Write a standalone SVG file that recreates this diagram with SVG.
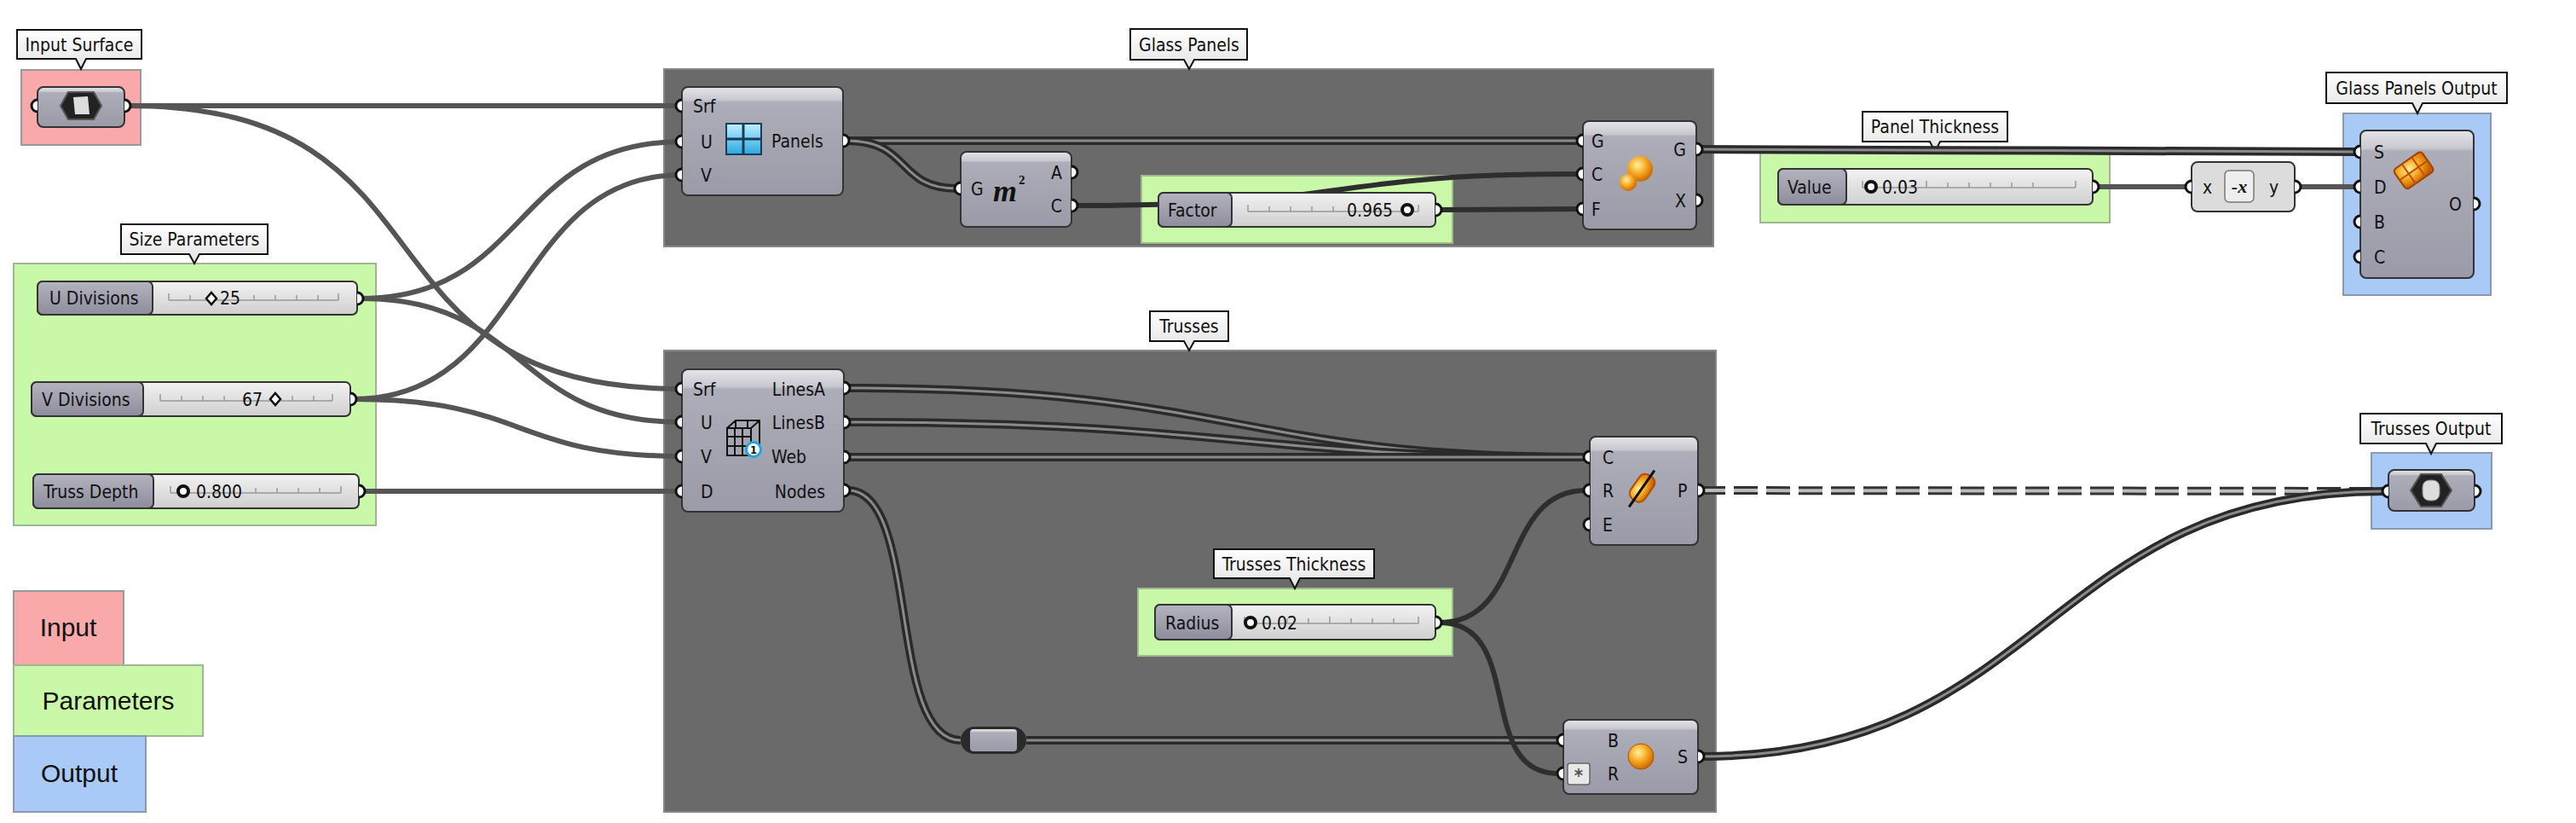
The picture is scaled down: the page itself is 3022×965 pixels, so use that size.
<svg xmlns="http://www.w3.org/2000/svg" width="3022" height="965" viewBox="0 0 3022 965">
<defs>
<linearGradient id="comp" x1="0" y1="0" x2="0" y2="1"><stop offset="0" stop-color="#e4e4e8"/><stop offset="0.12" stop-color="#c8c8d0"/><stop offset="0.14" stop-color="#aeaeba"/><stop offset="1" stop-color="#9a9aa8"/></linearGradient>
<linearGradient id="sl" x1="0" y1="0" x2="0" y2="1"><stop offset="0" stop-color="#f2f2f2"/><stop offset="1" stop-color="#cfcfcf"/></linearGradient>
<linearGradient id="sll" x1="0" y1="0" x2="0" y2="1"><stop offset="0" stop-color="#b4b4c0"/><stop offset="1" stop-color="#8c8c9c"/></linearGradient>
<linearGradient id="bub" x1="0" y1="0" x2="0" y2="1"><stop offset="0" stop-color="#ffffff"/><stop offset="1" stop-color="#e2e2e2"/></linearGradient>
<radialGradient id="orb" cx="0.4" cy="0.35" r="0.7"><stop offset="0" stop-color="#fff2a0"/><stop offset="0.5" stop-color="#f7a821"/><stop offset="1" stop-color="#c06000"/></radialGradient>
<linearGradient id="win" x1="0" y1="0" x2="0" y2="1"><stop offset="0" stop-color="#bff0ff"/><stop offset="1" stop-color="#2aa8e0"/></linearGradient>
</defs>
<style>
text{font-family:"Liberation Sans Narrow","DejaVu Sans Condensed","Liberation Sans",sans-serif;font-size:21px;fill:#111}
.grp{fill:#6a6a6a;stroke:#888;stroke-width:2}
.pink{fill:#f9a9aa;stroke:#999;stroke-width:2}
.green{fill:#c8f8a8;stroke:#a0b890;stroke-width:2}
.blue{fill:#a9c9f7;stroke:#8a98b0;stroke-width:2}
.comp{fill:url(#comp);stroke:#333;stroke-width:2}
.bub{fill:url(#bub);stroke:#111;stroke-width:2}
.port{fill:#fff;stroke:#111;stroke-width:3}
.w{fill:none;stroke:#555;stroke-width:6}
.wd{fill:none;stroke:#2e2e2e;stroke-width:6}
.d1{fill:none;stroke:#2a2a2a;stroke-width:10}
.d2{fill:none;stroke:#8a8a8a;stroke-width:3}
.dash{fill:none;stroke:#333;stroke-width:10;stroke-dasharray:28 10}
.dashi{fill:none;stroke:#bbb;stroke-width:4;stroke-dasharray:28 10}
.sll{fill:url(#sll);stroke:#333;stroke-width:2}
.slr{fill:url(#sl);stroke:#333;stroke-width:2}
.tick{stroke:#999;stroke-width:1.5;fill:none}
.leg{font-family:"Liberation Sans",Arial,sans-serif;font-size:30px}
</style>

<g id="legend">
<rect x="16" y="693" width="129" height="87" class="pink"/>
<text x="80" y="746" class="leg" text-anchor="middle">Input</text>
<rect x="16" y="780" width="222" height="83" class="green"/>
<text x="127" y="832" class="leg" text-anchor="middle">Parameters</text>
<rect x="16" y="863" width="155" height="89" class="blue"/>
<text x="93" y="917" class="leg" text-anchor="middle">Output</text>
</g>
<g id="group-input"><rect x="25" y="82" width="140" height="88" class="pink"/>
<path d="M20,35 H166 V69 H101 L95,81 L89,69 H20 Z" class="bub"/><text x="93" y="60" text-anchor="middle">Input Surface</text></g>
<g id="group-size"><rect x="16" y="309" width="425" height="307" class="green"/>
<path d="M142,263 H314 V298 H234 L228,309 L222,298 H142 Z" class="bub"/><text x="228" y="288" text-anchor="middle">Size Parameters</text></g>
<g id="group-glass"><rect x="779" y="81" width="1231" height="208" class="grp"/>
<path d="M1326,34 H1463 V70 H1401 L1395,81 L1389,70 H1326 Z" class="bub"/><text x="1395" y="60" text-anchor="middle">Glass Panels</text></g>
<g id="group-trusses"><rect x="779" y="411" width="1234" height="541" class="grp"/>
<path d="M1349,365 H1441 V400 H1401 L1395,411 L1389,400 H1349 Z" class="bub"/><text x="1395" y="390" text-anchor="middle">Trusses</text></g>
<g id="group-factor"><rect x="1339" y="206" width="365" height="79" class="green"/></g>
<g id="group-panelthk"><rect x="2065" y="178" width="410" height="83" class="green"/>
<path d="M2185,131 H2355 V166 H2276 L2270,178 L2264,166 H2185 Z" class="bub"/><text x="2270" y="156" text-anchor="middle">Panel Thickness</text></g>
<g id="group-glassout"><rect x="2749" y="133" width="173" height="213" class="blue"/>
<path d="M2729,85 H2941 V121 H2842 L2836,133 L2830,121 H2729 Z" class="bub"/><text x="2835" y="111" text-anchor="middle">Glass Panels Output</text></g>
<g id="group-trussthk"><rect x="1335" y="690" width="369" height="79" class="green"/>
<path d="M1424,644 H1612 V678 H1525 L1519,690 L1513,678 H1424 Z" class="bub"/><text x="1518" y="669" text-anchor="middle">Trusses Thickness</text></g>
<g id="group-trussout"><rect x="2782" y="531" width="141" height="89" class="blue"/>
<path d="M2769,485 H2935 V520 H2858 L2852,532 L2846,520 H2769 Z" class="bub"/><text x="2852" y="510" text-anchor="middle">Trusses Output</text></g>

<g id="connectors">
<path class="w" d="M150,124 C500,124 500,124 800,124"/>
<path class="w" d="M150,124 C550,124 400,456 800,456"/>
<path class="w" d="M423,350 C620,350 600,166 800,166"/>
<path class="w" d="M423,350 C620,350 600,495 800,495"/>
<path class="w" d="M414,468 C620,468 600,205 800,205"/>
<path class="w" d="M414,468 C620,468 600,535 800,535"/>
<path class="w" d="M425,576 L800,576"/>
<path class="d1" d="M993,165 L1853,165"/><path class="d2" d="M993,165 L1853,165"/>
<path class="d1" d="M993,165 C1070,165 1050,221 1123,221"/><path class="d2" d="M993,165 C1070,165 1050,221 1123,221"/>
<path class="wd" d="M1262,241 C1600,241 1550,204 1853,204"/>
<path class="wd" d="M1689,246 L1853,245"/>
<path class="d1" d="M1994,175 C2400,175 2400,178 2765,178"/><path class="d2" d="M1994,175 C2400,175 2400,178 2765,178"/>
<path class="w" d="M2459,219 L2566,219"/>
<path class="w" d="M2696,219 L2765,219"/>
<path class="d1" d="M995,455 C1450,455 1450,536 1861,536"/><path class="d2" d="M995,455 C1450,455 1450,536 1861,536"/>
<path class="d1" d="M995,495 C1450,495 1450,536 1861,536"/><path class="d2" d="M995,495 C1450,495 1450,536 1861,536"/>
<path class="d1" d="M995,536 L1861,536"/><path class="d2" d="M995,536 L1861,536"/>
<path class="d1" d="M995,575 C1080,575 1040,868 1127,868"/><path class="d2" d="M995,575 C1080,575 1040,868 1127,868"/>
<path class="d1" d="M1204,868 L1828,868"/><path class="d2" d="M1204,868 L1828,868"/>
<path class="wd" d="M1689,730 C1790,730 1760,575 1861,575"/>
<path class="wd" d="M1689,730 C1790,730 1730,907 1828,907"/>
<path class="dash" d="M1996,575 L2797,576"/><path class="dashi" d="M1996,575 L2797,576"/>
<path class="d1" d="M1996,887 C2400,887 2400,576 2797,576"/><path class="d2" d="M1996,887 C2400,887 2400,576 2797,576"/>
</g>

<g id="input-surface">
<rect x="44" y="102" width="102" height="47" rx="7" class="comp"/>
<polygon points="80,108 110,108 119,124 110,140 80,140 71,124" fill="#222" stroke="#555" stroke-width="2"/>
<path d="M86,114 L103,113 L105,134 L88,134 Z" fill="#ddd"/>
<path d="M44,117 a7,7 0 0 0 0,14" class="port"/><path d="M146,117 a7,7 0 0 1 0,14" class="port"/>
</g>

<g id="u-divisions">
<rect x="44" y="330" width="375" height="39" rx="6" class="slr"/>
<rect x="44" y="330" width="135" height="39" rx="6" class="sll"/>
<text x="58" y="357">U Divisions</text>
<path class="tick" d="M198,352 H397 M198,344 V352 M223,346 V352 M298,346 V352 M323,346 V352 M348,346 V352 M373,346 V352 M397,344 V352"/>
<path d="M248,343 L254,350 L248,357 L242,350 Z" fill="#fff" stroke="#111" stroke-width="2.5"/>
<text x="258" y="357">25</text>
<path d="M419,343 a7,7 0 0 1 0,14" class="port"/>
</g>
<g id="v-divisions">
<rect x="37" y="448" width="374" height="40" rx="6" class="slr"/>
<rect x="37" y="448" width="131" height="40" rx="6" class="sll"/>
<text x="49" y="476">V Divisions</text>
<path class="tick" d="M188,470 H390 M188,462 V470 M213,464 V470 M238,464 V470 M263,464 V470 M343,464 V470 M368,464 V470 M390,462 V470"/>
<text x="284" y="476">67</text>
<path d="M323,461 L329,468 L323,475 L317,468 Z" fill="#fff" stroke="#111" stroke-width="2.5"/>
<path d="M411,461 a7,7 0 0 1 0,14" class="port"/>
</g>
<g id="truss-depth">
<rect x="39" y="556" width="382" height="40" rx="6" class="slr"/>
<rect x="39" y="556" width="141" height="40" rx="6" class="sll"/>
<text x="51" y="584">Truss Depth</text>
<path class="tick" d="M200,578 H400 M200,570 V578 M300,572 V578 M325,572 V578 M350,572 V578 M375,572 V578 M400,570 V578"/>
<circle cx="215" cy="576" r="6" fill="#fff" stroke="#111" stroke-width="4"/>
<text x="230" y="584">0.800</text>
<path d="M421,569 a7,7 0 0 1 0,14" class="port"/>
</g>

<g id="divide-panels">
<rect x="800" y="102" width="189" height="127" rx="7" class="comp"/>
<rect x="852" y="145" width="41" height="36" fill="url(#win)" stroke="#1a3a5a" stroke-width="2"/>
<path d="M872,145 V181 M852,163 H893" stroke="#1a3a5a" stroke-width="3"/>
<text x="813" y="132">Srf</text><text x="822" y="174">U</text><text x="822" y="213">V</text>
<text x="905" y="173">Panels</text>
<path d="M800,117 a7,7 0 0 0 0,14" class="port"/><path d="M800,159 a7,7 0 0 0 0,14" class="port"/><path d="M800,198 a7,7 0 0 0 0,14" class="port"/>
<path d="M989,158 a7,7 0 0 1 0,14" class="port"/>
</g>
<g id="area">
<rect x="1127" y="178" width="130" height="88" rx="7" class="comp"/>
<text x="1139" y="229">G</text>
<text x="1165" y="236" style="font-family:'Liberation Serif',serif;font-style:italic;font-weight:bold;font-size:36px">m</text>
<text x="1195" y="216" style="font-family:'Liberation Serif',serif;font-weight:bold;font-size:15px">2</text>
<text x="1246" y="210" text-anchor="end">A</text><text x="1246" y="249" text-anchor="end">C</text>
<path d="M1127,214 a7,7 0 0 0 0,14" class="port"/>
<path d="M1257,195 a7,7 0 0 1 0,14" class="port"/><path d="M1257,234 a7,7 0 0 1 0,14" class="port"/>
</g>
<g id="factor">
<rect x="1359" y="226" width="325" height="40" rx="6" class="slr"/>
<rect x="1359" y="226" width="86" height="40" rx="6" class="sll"/>
<text x="1370" y="254">Factor</text>
<path class="tick" d="M1464,248 H1664 M1464,240 V248 M1489,242 V248 M1514,242 V248 M1539,242 V248 M1564,242 V248 M1664,240 V248"/>
<text x="1634" y="254" text-anchor="end">0.965</text>
<circle cx="1651" cy="246" r="6" fill="#fff" stroke="#111" stroke-width="4"/>
<path d="M1684,239 a7,7 0 0 1 0,14" class="port"/>
</g>
<g id="scale">
<rect x="1857" y="142" width="133" height="127" rx="7" class="comp"/>
<circle cx="1924" cy="198" r="15" fill="url(#orb)"/><circle cx="1910" cy="214" r="10" fill="url(#orb)"/>
<text x="1867" y="173">G</text><text x="1867" y="212">C</text><text x="1867" y="253">F</text>
<text x="1978" y="183" text-anchor="end">G</text><text x="1978" y="243" text-anchor="end">X</text>
<path d="M1857,158 a7,7 0 0 0 0,14" class="port"/><path d="M1857,197 a7,7 0 0 0 0,14" class="port"/><path d="M1857,238 a7,7 0 0 0 0,14" class="port"/>
<path d="M1990,168 a7,7 0 0 1 0,14" class="port"/><path d="M1990,228 a7,7 0 0 1 0,14" class="port"/>
</g>
<g id="value">
<rect x="2086" y="198" width="369" height="42" rx="6" class="slr"/>
<rect x="2086" y="198" width="80" height="42" rx="6" class="sll"/>
<text x="2097" y="227">Value</text>
<path class="tick" d="M2185,220 H2435 M2185,212 V220 M2210,214 V220 M2235,214 V220 M2260,212 V220 M2285,214 V220 M2310,214 V220 M2335,214 V220 M2360,214 V220 M2385,214 V220 M2435,212 V220"/>
<circle cx="2195" cy="219" r="6" fill="#fff" stroke="#111" stroke-width="4"/>
<text x="2208" y="227">0.03</text>
<path d="M2455,212 a7,7 0 0 1 0,14" class="port"/>
</g>
<g id="negative">
<rect x="2571" y="190" width="121" height="58" rx="7" class="comp" style="fill:#dcdcdc"/>
<rect x="2610" y="200" width="34" height="37" rx="5" fill="#eee" stroke="#777" stroke-width="1.5"/>
<text x="2627" y="226" text-anchor="middle" style="font-family:'Liberation Serif',serif;font-weight:bold;font-style:italic;font-size:22px">-x</text>
<text x="2584" y="227">x</text><text x="2662" y="227">y</text>
<path d="M2571,212 a7,7 0 0 0 0,14" class="port"/><path d="M2692,212 a7,7 0 0 1 0,14" class="port"/>
</g>
<g id="bake">
<rect x="2769" y="153" width="133" height="173" rx="7" class="comp"/>
<g transform="rotate(-35 2831 199)"><rect x="2811" y="186" width="40" height="28" rx="4" fill="url(#orb)" stroke="#a04000" stroke-width="2"/><path d="M2824,186 V214 M2838,186 V214 M2811,200 H2851" stroke="#c05000" stroke-width="2"/></g>
<text x="2785" y="186">S</text><text x="2785" y="227">D</text><text x="2785" y="268">B</text><text x="2785" y="309">C</text>
<text x="2873" y="247">O</text>
<path d="M2769,171 a7,7 0 0 0 0,14" class="port"/><path d="M2769,212 a7,7 0 0 0 0,14" class="port"/><path d="M2769,253 a7,7 0 0 0 0,14" class="port"/><path d="M2769,294 a7,7 0 0 0 0,14" class="port"/>
<path d="M2902,232 a7,7 0 0 1 0,14" class="port"/>
</g>

<g id="truss-component">
<rect x="800" y="433" width="190" height="167" rx="7" class="comp"/>
<g stroke="#111" stroke-width="2" fill="none"><rect x="853" y="502" width="28" height="32"/><path d="M853,502 L863,493 H891 V525 L881,534 M881,502 L891,493 M862,502 V534 M871,502 V534 M853,512 H881 M853,523 H881 M863,493 V502 M877,493 V502"/></g>
<circle cx="884" cy="527" r="10" fill="#1aa8e0"/><circle cx="884" cy="527" r="7" fill="#fff"/>
<text x="884" y="532" text-anchor="middle" style="font-size:13px;font-weight:bold">1</text>
<text x="813" y="464">Srf</text><text x="822" y="503">U</text><text x="822" y="543">V</text><text x="822" y="584">D</text>
<text x="968" y="464" text-anchor="end">LinesA</text><text x="968" y="503" text-anchor="end">LinesB</text><text x="905" y="543">Web</text><text x="968" y="584" text-anchor="end">Nodes</text>
<path d="M800,449 a7,7 0 0 0 0,14" class="port"/><path d="M800,488 a7,7 0 0 0 0,14" class="port"/><path d="M800,528 a7,7 0 0 0 0,14" class="port"/><path d="M800,569 a7,7 0 0 0 0,14" class="port"/>
<path d="M990,448 a7,7 0 0 1 0,14" class="port"/><path d="M990,488 a7,7 0 0 1 0,14" class="port"/><path d="M990,529 a7,7 0 0 1 0,14" class="port"/><path d="M990,568 a7,7 0 0 1 0,14" class="port"/>
</g>
<g id="pipe">
<rect x="1865" y="512" width="127" height="127" rx="7" class="comp"/>
<g transform="rotate(-55 1926 573)"><rect x="1910" y="563" width="34" height="20" rx="8" fill="url(#orb)" stroke="#b05000" stroke-width="2"/><path d="M1900,573 H1952" stroke="#111" stroke-width="3"/></g>
<text x="1880" y="544">C</text><text x="1880" y="583">R</text><text x="1880" y="623">E</text>
<text x="1968" y="583">P</text>
<path d="M1865,529 a7,7 0 0 0 0,14" class="port"/><path d="M1865,568 a7,7 0 0 0 0,14" class="port"/><path d="M1865,608 a7,7 0 0 0 0,14" class="port"/>
<path d="M1992,568 a7,7 0 0 1 0,14" class="port"/>
</g>
<g id="radius">
<rect x="1355" y="709" width="329" height="41" rx="6" class="slr"/>
<rect x="1355" y="709" width="90" height="41" rx="6" class="sll"/>
<text x="1367" y="738">Radius</text>
<path class="tick" d="M1460,731 H1664 M1460,723 V731 M1510,725 V731 M1535,725 V731 M1560,723 V731 M1585,725 V731 M1610,725 V731 M1635,725 V731 M1664,723 V731"/>
<circle cx="1467" cy="730" r="6" fill="#fff" stroke="#111" stroke-width="4"/>
<text x="1480" y="738">0.02</text>
<path d="M1684,723 a7,7 0 0 1 0,14" class="port"/>
</g>
<g id="relay">
<rect x="1127" y="852" width="77" height="32" rx="16" fill="#2a2a2a"/>
<rect x="1138" y="855" width="55" height="26" rx="4" fill="url(#comp)"/>
</g>
<g id="sphere">
<rect x="1834" y="844" width="158" height="87" rx="7" class="comp"/>
<circle cx="1925" cy="887" r="15" fill="url(#orb)" stroke="#b05000" stroke-width="1"/>
<text x="1886" y="876">B</text><text x="1886" y="915">R</text>
<text x="1968" y="895">S</text>
<rect x="1839" y="895" width="26" height="25" rx="3" fill="#e8e8e8" stroke="#666" stroke-width="1.5"/>
<text x="1852" y="917" text-anchor="middle" style="font-size:22px;font-weight:bold;fill:#555">*</text>
<path d="M1834,861 a7,7 0 0 0 0,14" class="port"/><path d="M1834,900 a7,7 0 0 0 0,14" class="port"/>
<path d="M1992,880 a7,7 0 0 1 0,14" class="port"/>
</g>
<g id="trusses-output">
<rect x="2802" y="551" width="101" height="48" rx="7" class="comp"/>
<polygon points="2840,556 2864,556 2876,575 2864,594 2840,594 2828,575" fill="#222" stroke="#555" stroke-width="2"/>
<rect x="2842" y="563" width="20" height="24" rx="8" fill="#ddd" stroke="#888"/>
<path d="M2802,569 a7,7 0 0 0 0,14" class="port"/><path d="M2903,569 a7,7 0 0 1 0,14" class="port"/>
</g>
</svg>
